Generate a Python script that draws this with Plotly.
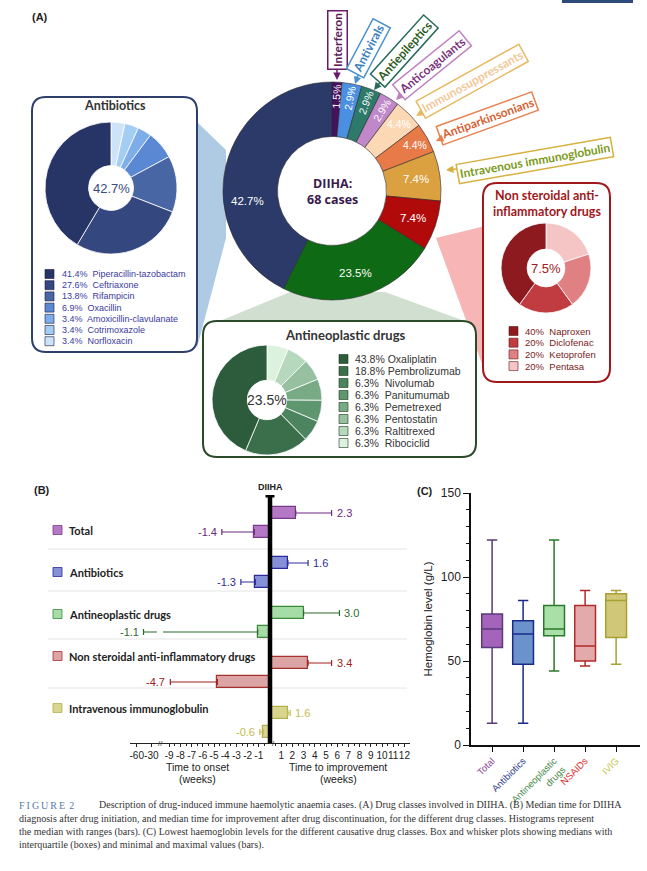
import math
import plotly.graph_objects as go

W, H = 647, 871


def X(p):
    return p / W


def Y(p):
    return 1 - p / H


# ---------------- DATA ----------------
class_names = ["Interferon", "Antivirals", "Antiepileptics", "Anticoagulants",
               "Immunosuppressants", "Antiparkinsonians", "Intravenous immunoglobulin",
               "Non steroidal anti-inflammatory drugs", "Antineoplastic drugs", "Antibiotics"]
class_cases = [1, 2, 2, 2, 3, 3, 5, 5, 16, 29]
class_pct = ["1.5%", "2.9%", "2.9%", "2.9%", "4.4%", "4.4%", "7.4%", "7.4%", "23.5%", "42.7%"]

abx_names = ["Piperacillin-tazobactam", "Ceftriaxone", "Rifampicin", "Oxacillin",
             "Amoxicillin-clavulanate", "Cotrimoxazole", "Norfloxacin"]
abx_pct = [41.4, 27.6, 13.8, 6.9, 3.4, 3.4, 3.4]

neo_names = ["Oxaliplatin", "Pembrolizumab", "Nivolumab", "Panitumumab", "Pemetrexed",
             "Pentostatin", "Raltitrexed", "Ribociclid"]
neo_pct = [43.8, 18.8, 6.3, 6.3, 6.3, 6.3, 6.3, 6.3]

nsaid_names = ["Naproxen", "Diclofenac", "Ketoprofen", "Pentasa"]
nsaid_pct = [40, 20, 20, 20]

b_names = ["Total", "Antibiotics", "Antineoplastic drugs",
           "Non steroidal anti-inflammatory drugs", "Intravenous immunoglobulin"]
onset_median = [-1.4, -1.3, -1.1, -4.7, -0.6]
onset_min = [-4.3, -2.6, -46, -8.9, -0.9]
improve_median = [2.3, 1.6, 3.0, 3.4, 1.6]
improve_max = [5.5, 3.4, 6.2, 5.5, 1.8]
onset_ticks = [-60, -30, -9, -8, -7, -6, -5, -4, -3, -2, -1]
improve_ticks = [1, 2, 3, 4, 5, 6, 7, 8, 9, 10, 11, 12]

c_names = ["Total", "Antibiotics", "Antineoplastic<br>drugs", "NSAIDs", "IVIG"]
hb_min = [13, 13, 44, 47, 48]
hb_q1 = [58, 48, 65, 50, 64]
hb_median = [69, 66, 69, 59, 86]
hb_q3 = [78, 74, 83, 83, 90]
hb_max = [122, 86, 122, 92, 92]
hb_ticks = [0, 50, 100, 150]

caption_lines = [
    "Description of drug-induced immune haemolytic anaemia cases. (A) Drug classes involved in DIIHA. (B) Median time for DIIHA",
    "diagnosis after drug initiation, and median time for improvement after drug discontinuation, for the different drug classes. Histograms represent",
    "the median with ranges (bars). (C) Lowest haemoglobin levels for the different causative drug classes. Box and whisker plots showing medians with",
    "interquartile (boxes) and minimal and maximal values (bars).",
]

# ---------------- STYLE ----------------
class_colors = ["#4a1060", "#4a8fe0", "#2d7a6a", "#c088c8", "#fcd8b4",
                "#e87a48", "#dba040", "#b00a0a", "#0e6a14", "#2b3a68"]
label_shift_deg = [0, 0, 0, 0, 0, 0, 0, 0, 0, -20]
abx_colors = ["#273466", "#34477f", "#4766a3", "#5a88d2", "#7eaeea", "#a4cdf3", "#cde4f8"]
neo_colors = ["#2c5c3c", "#3b6f4c", "#4c8460", "#5e9670", "#78aa86", "#96c0a0", "#b6d8bc", "#ddf1df"]
nsaid_colors = ["#8c1a1e", "#c13c40", "#e08082", "#f5c4c4"]

b_fill = ["#b478c4", "#8690d8", "#a6dca6", "#dca4a4", "#d8d68e"]
b_edge = ["#7a3a8a", "#2a2a9a", "#3a8a3a", "#a43030", "#b4b050"]
b_text = ["#6a2a7a", "#2e2e96", "#2a6a2a", "#a02020", "#c4bc50"]

c_fill = ["#a464bc", "#6c92cc", "#a8e0a8", "#e2aaaa", "#d0c878"]
c_edge = ["#5a3a7a", "#1a2a8a", "#2a7a2a", "#b42a2a", "#a8a030"]
c_tick = ["#8a4a9a", "#2a3a8a", "#4a8a4a", "#e03030", "#c8c040"]

SANS = "Liberation Sans"
BOLD = "Lato"

fig = go.Figure()
shapes = []
ann = []


def A(xp, yp, text, size, color, family=SANS, xanchor="center", angle=0):
    ann.append(dict(x=X(xp), y=Y(yp), xref="paper", yref="paper", text=text, showarrow=False,
                    xanchor=xanchor, yanchor="middle", textangle=angle,
                    font=dict(family=family, size=size, color=color)))


def rrect(x0, y0, x1, y1, r):
    pts = [
        f"M{X(x0 + r)},{Y(y0)}", f"L{X(x1 - r)},{Y(y0)}", f"Q{X(x1)},{Y(y0)} {X(x1)},{Y(y0 + r)}",
        f"L{X(x1)},{Y(y1 - r)}", f"Q{X(x1)},{Y(y1)} {X(x1 - r)},{Y(y1)}",
        f"L{X(x0 + r)},{Y(y1)}", f"Q{X(x0)},{Y(y1)} {X(x0)},{Y(y1 - r)}",
        f"L{X(x0)},{Y(y0 + r)}", f"Q{X(x0)},{Y(y0)} {X(x0 + r)},{Y(y0)}", "Z"]
    return " ".join(pts)


def poly(points):
    return "M" + " L".join(f"{X(a)},{Y(b)}" for a, b in points) + " Z"


# ---------------- PANEL A ----------------
CX, CY, R = 332, 191, 109
fig.add_trace(go.Pie(
    values=class_cases, labels=class_names, sort=False, direction="clockwise", rotation=0,
    hole=0.5, textinfo="none", showlegend=False,
    marker=dict(colors=class_colors, line=dict(color="#2a2a2a", width=0.6)),
    domain=dict(x=[X(CX - R), X(CX + R)], y=[Y(CY + R), Y(CY - R)])))

total = sum(class_cases)
cum = 0
for v, lab, sh in zip(class_cases, class_pct, label_shift_deg):
    mid = (cum + v / 2) / total * 2 * math.pi + math.radians(sh)
    cum += v
    frac = v / total
    r = 95 if frac < 0.05 else 85
    ang = math.degrees(mid) - 90 if frac < 0.04 else 0
    A(CX + r * math.sin(mid), CY - r * math.cos(mid), lab, 10.5 if frac < 0.05 else 11.5, "white", angle=ang)

A(CX, CY, "<b>DIIHA:</b><br><b>68 cases</b>", 12.5, "#3a1a4a", family="Open Sans")

# call-out labels for the small classes
call_pos = [(337, 40, 337, 80, -90), (368, 48, 355, 84, -62), (405, 51, 374, 90, -48),
            (432, 66, 396, 100, -39), (472, 82, 416, 116, -29), (487, 119, 436, 141, -20),
            (535, 161, 446, 170, -10)]
call_border = ["#6a1a6a", "#4a90d0", "#2a6a5a", "#c080c0", "#e8b860", "#e88050", "#d8b040"]
call_text = ["#5a1a5a", "#3a80c0", "#2a5a1a", "#7a307a", "#f0c898", "#d86030", "#7a9a1a"]
for i, (bx, by, tx, ty, ang) in enumerate(call_pos):
    ann.append(dict(x=X(tx), y=Y(ty), xref="paper", yref="paper", ax=bx - tx, ay=by - ty,
                    text="<b>" + class_names[i] + "</b>", textangle=ang, showarrow=True,
                    xanchor="center", yanchor="middle",
                    arrowhead=2, arrowsize=1, arrowwidth=1.5, arrowcolor=call_border[i],
                    bgcolor="white", bordercolor=call_border[i], borderwidth=1.5, borderpad=1.5,
                    font=dict(family=BOLD, size=12, color=call_text[i])))

# connectors
shapes.append(dict(type="path", path=poly([(197, 122), (226, 150), (226, 238), (197, 348)]),
                   xref="paper", yref="paper", fillcolor="rgba(110,160,205,0.55)", line=dict(width=0),
                   layer="below"))
shapes.append(dict(type="path", path=poly([(436, 238), (485, 226), (485, 372)]),
                   xref="paper", yref="paper", fillcolor="rgba(240,120,120,0.55)", line=dict(width=0),
                   layer="below"))
shapes.append(dict(type="path", path=poly([(290, 292), (385, 292), (470, 323), (215, 323)]),
                   xref="paper", yref="paper", fillcolor="rgba(150,185,150,0.45)", line=dict(width=0),
                   layer="below"))

# inset boxes
shapes.append(dict(type="path", path=rrect(32, 97, 197, 352, 14), xref="paper", yref="paper",
                   fillcolor="white", line=dict(color="#2e3f6e", width=2), layer="below"))
shapes.append(dict(type="path", path=rrect(483, 183, 610, 382, 14), xref="paper", yref="paper",
                   fillcolor="white", line=dict(color="#a0181c", width=2), layer="below"))
shapes.append(dict(type="path", path=rrect(203, 321, 476, 457, 14), xref="paper", yref="paper",
                   fillcolor="white", line=dict(color="#2a4a2a", width=2), layer="below"))


def inset_pie(values, names, colors, cx, cy, r, hole):
    # drawn clockwise from 12 o'clock in reverse legend order (first item ends at 12 o'clock)
    fig.add_trace(go.Pie(values=values[::-1], labels=names[::-1], sort=False, direction="clockwise",
                         rotation=0, hole=hole, textinfo="none", showlegend=False,
                         marker=dict(colors=colors[::-1], line=dict(color="white", width=0.8)),
                         domain=dict(x=[X(cx - r), X(cx + r)], y=[Y(cy + r), Y(cy - r)])))


# Antibiotics inset
inset_pie(abx_pct, abx_names, abx_colors, 111, 188, 66, 0.34)
A(115, 106, "<b>Antibiotics</b>", 12.5, "#333", family=BOLD)
A(111, 188, "42.7%", 13, "#3a4a7a")
for k, (nm, p) in enumerate(zip(abx_names, abx_pct)):
    yy = 274 + k * 11.2
    shapes.append(dict(type="rect", x0=X(45), x1=X(54), y0=Y(yy + 4.5), y1=Y(yy - 4.5), xref="paper",
                       yref="paper", fillcolor=abx_colors[k], line=dict(color="#1a1a3a", width=0.6)))
    A(60, yy, f"{p}%  {nm}", 9, "#3a3aa0", xanchor="left")

# NSAID inset
inset_pie(nsaid_pct, nsaid_names, nsaid_colors, 546, 268, 45, 0.42)
A(547, 203, "<b>Non steroidal anti-</b><br><b>inflammatory drugs</b>", 12.5, "#a0181c", family=BOLD)
A(546, 268, "7.5%", 13, "#a02020")
for k, (nm, p) in enumerate(zip(nsaid_names, nsaid_pct)):
    yy = 331 + k * 11.7
    shapes.append(dict(type="rect", x0=X(509), x1=X(518), y0=Y(yy + 4.5), y1=Y(yy - 4.5), xref="paper",
                       yref="paper", fillcolor=nsaid_colors[k], line=dict(color="#5a1a1a", width=0.6)))
    A(523, yy, f"{p}%  {nm}", 9.5, "#7a1a1a", xanchor="left")

# Antineoplastic inset
inset_pie(neo_pct, neo_names, neo_colors, 267, 400, 55, 0.36)
A(345, 335, "<b>Antineoplastic drugs</b>", 13, "#333", family=BOLD)
A(267, 400, "23.5%", 14, "#333")
for k, (nm, p) in enumerate(zip(neo_names, neo_pct)):
    yy = 359 + k * 12
    shapes.append(dict(type="rect", x0=X(339), x1=X(348), y0=Y(yy + 4.5), y1=Y(yy - 4.5), xref="paper",
                       yref="paper", fillcolor=neo_colors[k], line=dict(color="#1a3a1a", width=0.6)))
    sep = " " if p >= 10 else "  "
    A(353, yy, f"{p}%{sep}{nm}", 10.5, "#333", xanchor="left")

# panel labels and top bar
for lab, xx, yy in [("(A)", 40, 17), ("(B)", 42, 490), ("(C)", 425, 491)]:
    A(xx, yy, f"<b>{lab}</b>", 11, "#222")
shapes.append(dict(type="rect", x0=X(562), x1=X(633), y0=Y(3), y1=Y(0), xref="paper", yref="paper",
                   fillcolor="#2e4a7a", line=dict(width=0)))


# ---------------- PANEL B ----------------
def T(v):
    if v >= -9:
        return v
    if v >= -30:
        return -9 + (v + 9) / 21 * 1.6
    return -10.6 + (v + 30) / 30 * 1.3


OFF = 0.19
for i, nm in enumerate(b_names):
    fig.add_trace(go.Bar(
        x=[T(improve_median[i]), T(onset_median[i])], y=[i - OFF, i + OFF], orientation="h", width=0.24,
        marker=dict(color=b_fill[i], line=dict(color=b_edge[i], width=1.2)),
        error_x=dict(type="data", symmetric=False,
                     array=[T(improve_max[i]) - T(improve_median[i]), 0],
                     arrayminus=[0, T(onset_median[i]) - T(onset_min[i])],
                     color=b_text[i], thickness=1.2, width=3),
        xaxis="x", yaxis="y", showlegend=False, name=nm))
    ann.append(dict(x=T(improve_max[i]), y=i - OFF, xref="x", yref="y", xanchor="left", yanchor="middle",
                    xshift=3, showarrow=False, text=f"{improve_median[i]:.1f}",
                    font=dict(family=SANS, size=11, color=b_text[i])))
    ann.append(dict(x=T(onset_min[i]), y=i + OFF, xref="x", yref="y", xanchor="right", yanchor="middle",
                    xshift=-3, showarrow=False, text=f"{onset_median[i]:.1f}",
                    font=dict(family=SANS, size=11, color=b_text[i])))

label_y = [530, 572, 614, 656, 708]
for i, nm in enumerate(b_names):
    yy = label_y[i]
    shapes.append(dict(type="rect", x0=X(53), x1=X(62), y0=Y(yy + 4.5), y1=Y(yy - 4.5), xref="paper",
                       yref="paper", fillcolor=b_fill[i], line=dict(color=b_edge[i], width=0.8)))
    A(67, yy, f"<b>{nm}</b>", 11, "#222", family=BOLD, xanchor="left")

for yy in [549, 591, 639, 688]:
    shapes.append(dict(type="line", x0=X(48), x1=X(407), y0=Y(yy), y1=Y(yy), xref="paper", yref="paper",
                       line=dict(color="#e4e4e4", width=1), layer="below"))

YB0, YB1 = 4.41, -0.55
shapes.append(dict(type="line", x0=0, x1=0, y0=YB0, y1=YB1 + 0.02, xref="x", yref="y",
                   line=dict(color="black", width=4.5)))
shapes.append(dict(type="line", x0=-0.4, x1=0.4, y0=YB1 + 0.02, y1=YB1 + 0.02, xref="x", yref="y",
                   line=dict(color="black", width=3)))
# break gap in the long whisker and axis break marks
shapes.append(dict(type="rect", x0=-10.1, x1=-9.55, y0=2 + OFF - 0.06, y1=2 + OFF + 0.06, xref="x", yref="y",
                   fillcolor="white", line=dict(width=0)))
ann.append(dict(x=-9.8, y=YB0, xref="x", yref="y", showarrow=False, text="//", xanchor="center",
                yanchor="middle", font=dict(family=SANS, size=8, color="#333")))
ann.append(dict(x=0.35, y=YB0, xref="x", yref="y", showarrow=False, text="/", xanchor="center",
                yanchor="middle", font=dict(family=SANS, size=8, color="#333")))
ann.append(dict(x=0, y=Y(487), xref="x", yref="paper", showarrow=False, text="<b>DIIHA</b>",
                xanchor="center", yanchor="middle", font=dict(family=SANS, size=9, color="#222")))
A(197, 767, "Time to onset", 10.5, "#222")
A(197, 779, "(weeks)", 10.5, "#222")
A(338, 767, "Time to improvement", 10.5, "#222")
A(338, 779, "(weeks)", 10.5, "#222")

# ---------------- PANEL C ----------------
for i in range(len(c_names)):
    fig.add_trace(go.Box(x=[i], q1=[hb_q1[i]], median=[hb_median[i]], q3=[hb_q3[i]],
                         lowerfence=[hb_min[i]], upperfence=[hb_max[i]], width=0.67, whiskerwidth=0.5,
                         fillcolor=c_fill[i], line=dict(color=c_edge[i], width=1.5), boxpoints=False,
                         xaxis="x2", yaxis="y2", showlegend=False, name=c_names[i].replace("<br>", " ")))

# ---------------- CAPTION ----------------
A(17, 805, "F\u2009I\u2009G\u2009U\u2009R\u2009E\u2009\u20092", 10, "#5a7aa8", family="Liberation Serif",
  xanchor="left")
for k, line in enumerate(caption_lines):
    A(97 if k == 0 else 17, 805 + 13.3 * k, line, 10, "#333", family="Liberation Serif", xanchor="left")

fig.update_layout(
    width=W, height=H, margin=dict(l=0, r=0, t=0, b=0), paper_bgcolor="white",
    plot_bgcolor="rgba(0,0,0,0)", showlegend=False, bargap=0,
    shapes=shapes, annotations=ann,
    xaxis=dict(domain=[X(130), X(410)], range=[-12.5, 12.5], anchor="y", tickmode="array",
               tickvals=[T(v) for v in onset_ticks] + improve_ticks,
               ticktext=[str(v) for v in onset_ticks] + [str(v) for v in improve_ticks],
               tickangle=0,
               showline=True, linecolor="#222", linewidth=1, ticks="outside", ticklen=3,
               tickcolor="#222", tickfont=dict(family=SANS, size=10, color="#222"),
               minor=dict(tickvals=[v + 0.5 for v in range(-9, 0)] + [v + 0.5 for v in range(0, 12)],
                          ticklen=2, tickcolor="#222"),
               showgrid=False, zeroline=False, automargin=False, fixedrange=True),
    yaxis=dict(domain=[Y(743), Y(495)], range=[YB0, YB1], anchor="x", visible=False,
               showgrid=False, zeroline=False, automargin=False),
    xaxis2=dict(domain=[X(471), X(640)], range=[-0.68, 4.77], anchor="y2", tickmode="array",
                tickvals=list(range(len(c_names))),
                ticktext=[f'<span style="color:{c_tick[i]}">{n}</span>' for i, n in enumerate(c_names)],
                tickangle=-45, showline=True, linecolor="#111", linewidth=1.5, ticks="outside",
                ticklen=5, tickcolor="#111", tickfont=dict(family=SANS, size=9.5),
                showgrid=False, zeroline=False, automargin=False),
    yaxis2=dict(domain=[Y(745), Y(493)], range=[0, 150], anchor="x2", tickmode="array", tickvals=hb_ticks,
                showline=True, linecolor="#111", linewidth=1.5, ticks="outside", ticklen=6,
                tickcolor="#111", tickfont=dict(family=SANS, size=12, color="#222"),
                minor=dict(dtick=10, ticklen=3, tickcolor="#111", ticks="outside"),
                title=dict(text="Hemoglobin level (g/L)", font=dict(family=SANS, size=11.5, color="#222"),
                           standoff=6),
                showgrid=False, zeroline=False, automargin=False),
)

fig.write_html("out.html", config={"displayModeBar": False},
               post_script="document.body.style.margin='0px';")
